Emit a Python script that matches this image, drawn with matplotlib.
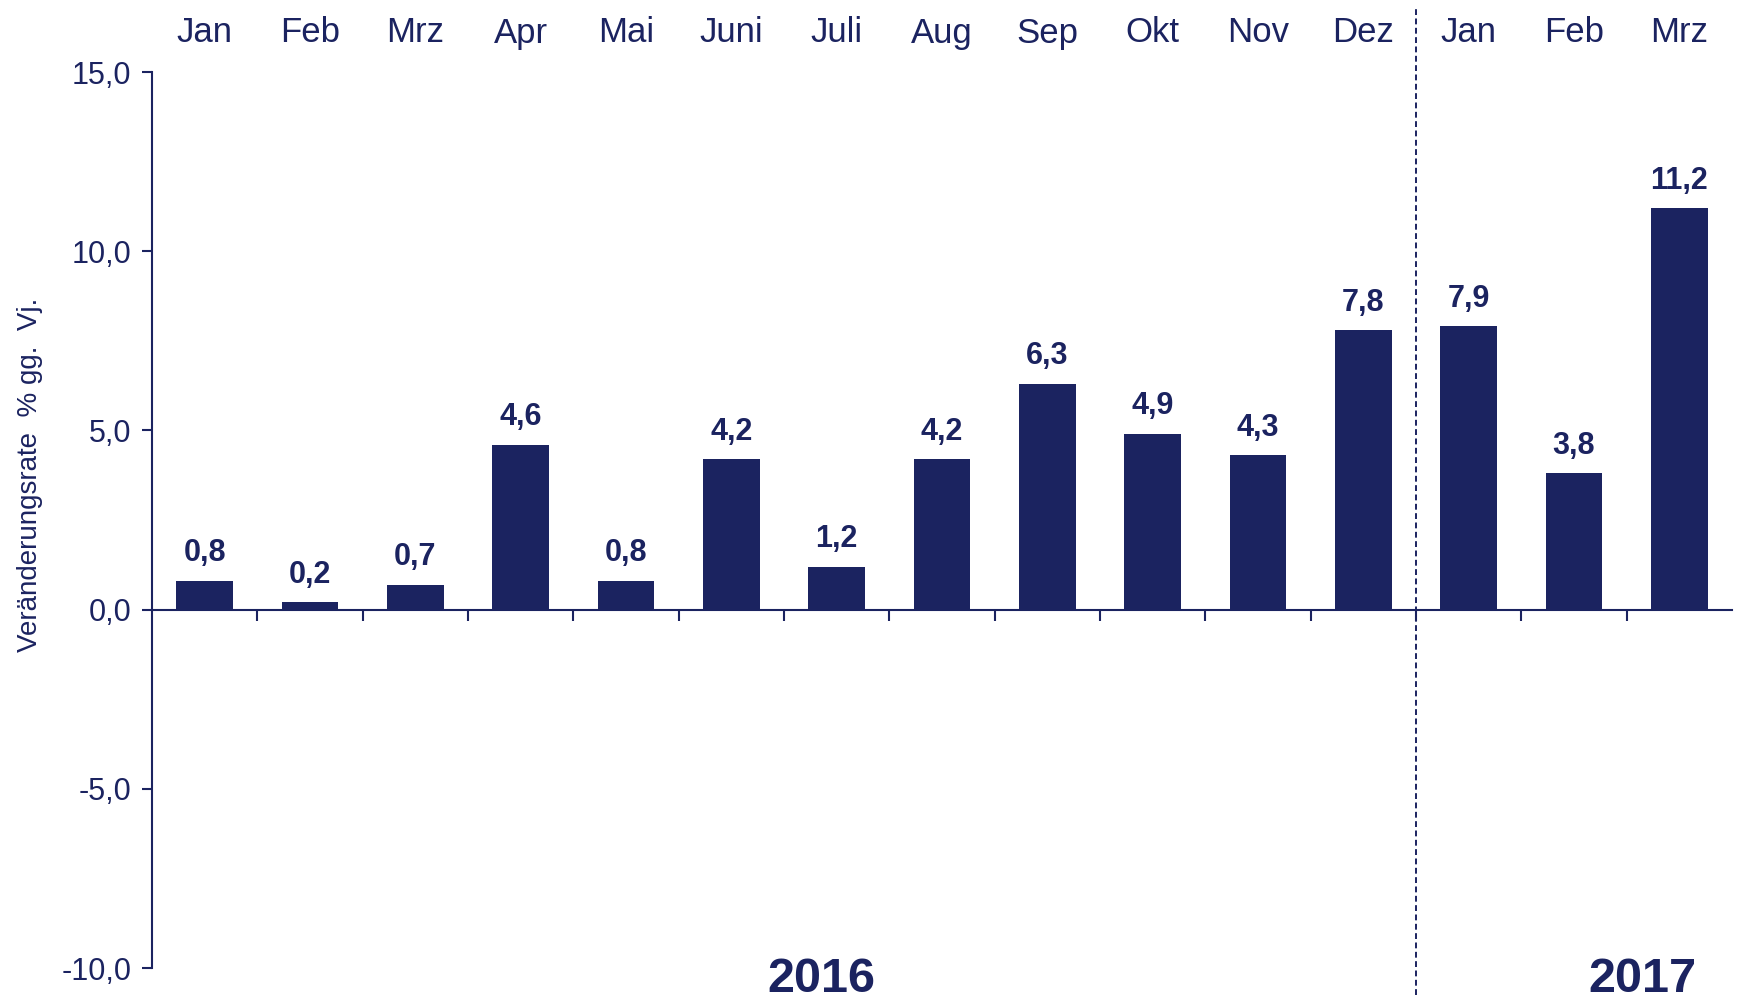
import numpy as np
import matplotlib
matplotlib.use("Agg")
import matplotlib.pyplot as plt
import matplotlib.transforms as mtransforms

plt.rcParams['font.family'] = ['Liberation Sans', 'DejaVu Sans']

# Data
months = ["Jan", "Feb", "Mrz", "Apr", "Mai", "Juni", "Juli", "Aug", "Sep",
          "Okt", "Nov", "Dez", "Jan", "Feb", "Mrz"]
values = [0.8, 0.2, 0.7, 4.6, 0.8, 4.2, 1.2, 4.2, 6.3, 4.9, 4.3, 7.8, 7.9, 3.8, 11.2]
years = ["2016", "2017"]
year_label_x = [5.85, 13.65]
year_split = 11.5
y_ticks = [-10, -5, 0, 5, 10, 15]

navy = "#1b2360"

def de_fmt(v):
    return f"{v:.1f}".replace(".", ",")

fig = plt.figure(figsize=(17.39, 10), dpi=100)
ax = fig.add_axes([0.0874, 0.032, 0.9086, 0.896])

x = np.arange(len(months))
ax.bar(x, values, width=0.54, color=navy, zorder=2)

ax.set_xlim(-0.5, len(months) - 0.5)
ax.set_ylim(-10, 15)

# Spines
for s in ["top", "right"]:
    ax.spines[s].set_visible(False)
ax.spines["left"].set_color(navy)
ax.spines["bottom"].set_color(navy)
ax.spines["left"].set_linewidth(1.5)
ax.spines["bottom"].set_linewidth(1.5)
ax.spines["bottom"].set_position(("data", 0))

# Y ticks
ax.set_yticks(y_ticks)
ax.set_yticklabels([de_fmt(v) for v in y_ticks])
ax.tick_params(axis="y", direction="out", length=7, width=1.5, color=navy,
               labelsize=22, labelcolor=navy, pad=8)

# X ticks at category boundaries, no labels
ax.set_xticks(np.arange(0.5, len(months) - 0.5, 1.0))
ax.set_xticklabels([])
ax.tick_params(axis="x", direction="out", length=8, width=1.5, color=navy)

ax.set_ylabel("Veränderungsrate  % gg.  Vj.", fontsize=20, color=navy)
ax.yaxis.set_label_coords(-0.069, 0.55)

# Value labels
for xi, v in zip(x, values):
    ax.annotate(de_fmt(v), (xi, v), xytext=(0, 9), textcoords="offset points",
                ha="center", va="bottom", fontsize=22, fontweight="bold",
                color=navy)

# Month labels on top
trans_top = mtransforms.blended_transform_factory(ax.transData, fig.transFigure)
for xi, m in zip(x, months):
    ax.text(xi, 0.967, m, transform=trans_top, ha="center", va="center",
            fontsize=25, color=navy, clip_on=False)

# Year labels at bottom
for xi, yr in zip(year_label_x, years):
    ax.text(xi, 0.021, yr, transform=trans_top, ha="center", va="center",
            fontsize=35, fontweight="bold", color=navy, clip_on=False)

# Dashed separator
line, = ax.plot([year_split, year_split], [0.005, 0.994], transform=trans_top,
                color=navy, lw=1.4, clip_on=False)
line.set_dashes((3, 1.8))

fig.savefig("out.png", dpi=100)
